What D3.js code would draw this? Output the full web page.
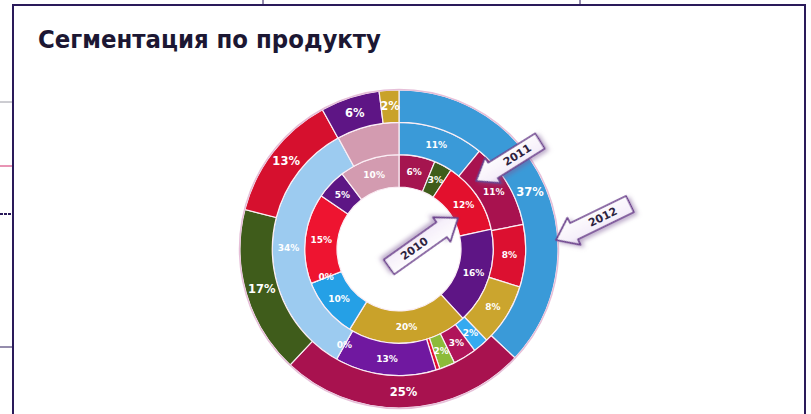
<!DOCTYPE html>
<html>
<head>
<meta charset="utf-8">
<script src="https://cdn.jsdelivr.net/npm/d3@7"></script>
<style>
    body { margin: 0; background: #fff; }
    svg { display: block; }
    .title { font-family: "Liberation Sans Narrow", "Arial Narrow", "DejaVu Sans Condensed", sans-serif; font-weight: bold; font-size: 24px; fill: #1c1733; }
    .lbl { font-family: "DejaVu Sans", Verdana, sans-serif; font-weight: bold; fill: #fff; text-anchor: middle; dominant-baseline: central; }
    .arrow-text { font-family: "DejaVu Sans", sans-serif; font-weight: bold; font-size: 11px; fill: #2e2340; text-anchor: middle; dominant-baseline: central; }
</style>
</head>
<body>
<div id="chart"></div>
<script>
const Title = "Сегментация по продукту";

// rings from the centre outwards
const Years = ["2010", "2011", "2012"];

const Values2010 = [6, 3, 12, 16, 20, 10, 0, 15, 5, 10];
const Labels2010 = ["6%", "3%", "12%", "16%", "20%", "10%", "0%", "15%", "5%", "10%"];

const Values2011 = [11, 11, 8, 8, 2, 3, 2, 0.5, 13, 0, 34, 8];
const Labels2011 = ["11%", "11%", "8%", "8%", "2%", "3%", "2%", "", "13%", "0%", "34%", ""];

const Values2012 = [37, 25, 17, 13, 6, 2];
const Labels2012 = ["37%", "25%", "17%", "13%", "6%", "2%"];

const Colors2010 = ["#a5154f", "#3f5c1b", "#e3102d", "#5e1585", "#c9a22a", "#25a0e6", "#e3102d", "#ee1430", "#5d1685", "#d39bb0"];
const Colors2011 = ["#3a9ad8", "#a8124f", "#dc1030", "#cba52e", "#35aaf0", "#b0145a", "#8cbb3a", "#e01030", "#7018a0", "#9ccbf0", "#9ccbf0", "#d39bb0"];
const Colors2012 = ["#3a9ad8", "#a8124f", "#3f5c1b", "#d6102e", "#5e1585", "#c9a22a"];

const Rings = [
    { year: "2010", values: Values2010, labels: Labels2010, colors: Colors2010, size: 9 },
    { year: "2011", values: Values2011, labels: Labels2011, colors: Colors2011, size: 9 },
    { year: "2012", values: Values2012, labels: Labels2012, colors: Colors2012, size: 11.5 },
];

// arrow tip / tail positions
const Arrows = [
    { text: "2010", tip: [458, 218], tail: [389, 267] },
    { text: "2011", tip: [476, 181], tail: [540, 141] },
    { text: "2012", tip: [556, 240], tail: [630, 204] },
];

function createRingChart() {
    const width = 811;
    const height = 414;
    const cx = 399, cy = 249;

    const svg = d3.select("#chart").append("svg")
        .attr("width", width)
        .attr("height", height);

    const defs = svg.append("defs");

    const shadow = defs.append("filter")
        .attr("id", "shadow")
        .attr("x", "-30%").attr("y", "-30%")
        .attr("width", "160%").attr("height", "160%");
    shadow.append("feDropShadow")
        .attr("dx", 2).attr("dy", 3)
        .attr("stdDeviation", 2)
        .attr("flood-color", "#7b5a96")
        .attr("flood-opacity", 0.5);

    const grad = defs.append("linearGradient")
        .attr("id", "arrowFill")
        .attr("x1", 0).attr("y1", 0).attr("x2", 0).attr("y2", 1);
    grad.append("stop").attr("offset", "0%").attr("stop-color", "#ffffff");
    grad.append("stop").attr("offset", "70%").attr("stop-color", "#f6f0fa");
    grad.append("stop").attr("offset", "100%").attr("stop-color", "#dccbe8");

    // bits of the surrounding page
    const page = svg.append("g").attr("fill", "none");
    page.append("line").attr("x1", 0).attr("x2", 13).attr("y1", 102).attr("y2", 102).attr("stroke", "#9a9aa4").attr("stroke-width", 1);
    page.append("line").attr("x1", 0).attr("x2", 13).attr("y1", 166).attr("y2", 166).attr("stroke", "#d22a6a").attr("stroke-width", 1);
    page.append("line").attr("x1", 0).attr("x2", 12).attr("y1", 214).attr("y2", 214).attr("stroke", "#2a1a5a").attr("stroke-width", 2).attr("stroke-dasharray", "3,1");
    page.append("line").attr("x1", 0).attr("x2", 13).attr("y1", 347).attr("y2", 347).attr("stroke", "#2a1a5a").attr("stroke-width", 1);
    page.append("line").attr("x1", 263).attr("x2", 263).attr("y1", 0).attr("y2", 5).attr("stroke", "#2a1a5a").attr("stroke-width", 1);
    page.append("line").attr("x1", 580).attr("x2", 580).attr("y1", 0).attr("y2", 5).attr("stroke", "#2a1a5a").attr("stroke-width", 1);

    // frame
    svg.append("path")
        .attr("d", `M13,${height} L13,5 L805,5 L805,${height}`)
        .attr("fill", "none")
        .attr("stroke", "#2a1a5a")
        .attr("stroke-width", 2);

    svg.append("text")
        .attr("class", "title")
        .attr("x", 38)
        .attr("y", 48)
        .attr("textLength", 343)
        .attr("lengthAdjust", "spacingAndGlyphs")
        .text(Title);

    const radius = d3.scaleBand()
        .domain(Years)
        .range([62, 159]);

    const pie = d3.pie().sort(null).value(d => d);

    const g = svg.append("g").attr("transform", `translate(${cx},${cy})`);

    Rings.forEach(ring => {
        const r0 = radius(ring.year);
        const r1 = r0 + radius.bandwidth();
        const arc = d3.arc().innerRadius(r0).outerRadius(r1);
        const arcs = pie(ring.values);

        g.append("g")
            .selectAll("path")
            .data(arcs)
            .enter().append("path")
                .attr("d", arc)
                .attr("fill", (d, i) => ring.colors[i])
                .attr("stroke", "#fbeef5")
                .attr("stroke-width", 1.2);

        g.append("g")
            .selectAll("text")
            .data(arcs)
            .enter().append("text")
                .attr("class", "lbl")
                .attr("font-size", ring.size)
                .attr("transform", d => `translate(${arc.centroid(d)})`)
                .text((d, i) => ring.labels[i]);
    });

    // soft outer edge
    g.append("circle")
        .attr("r", 159.5)
        .attr("fill", "none")
        .attr("stroke", "#e6bfd8")
        .attr("stroke-width", 1.5);

    // callout arrows
    Arrows.forEach(a => {
        const dx = a.tail[0] - a.tip[0];
        const dy = a.tail[1] - a.tip[1];
        const len = Math.sqrt(dx * dx + dy * dy);
        const ang = Math.atan2(dy, dx) * 180 / Math.PI;
        const hl = 20, hw = 15, bh = 9;

        const shape = [
            [0, 0], [hl, -hw], [hl, -bh], [len, -bh],
            [len, bh], [hl, bh], [hl, hw]
        ];

        const ag = svg.append("g")
            .attr("transform", `translate(${a.tip[0]},${a.tip[1]}) rotate(${ang})`);

        ag.append("path")
            .attr("d", d3.line()(shape) + "Z")
            .attr("fill", "url(#arrowFill)")
            .attr("stroke", "#6b3f8c")
            .attr("stroke-width", 1.6)
            .attr("stroke-linejoin", "round")
            .attr("filter", "url(#shadow)");

        const flip = Math.abs(ang) > 90 ? 180 : 0;
        ag.append("text")
            .attr("class", "arrow-text")
            .attr("transform", `translate(${(hl + len) / 2 + 1},0) rotate(${flip})`)
            .text(a.text);
    });
}

createRingChart();
</script>
</body>
</html>
